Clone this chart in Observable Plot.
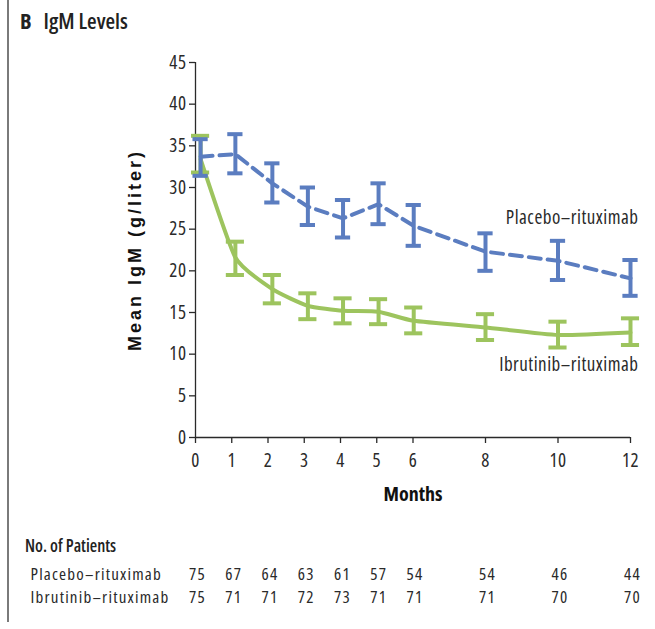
<!DOCTYPE html>
<html>
<head>
<meta charset="utf-8">
<script src="https://cdn.jsdelivr.net/npm/d3@7"></script>
<script src="https://cdn.jsdelivr.net/npm/@observablehq/plot@0.6"></script>
<style>
  html, body { margin: 0; padding: 0; background: #fff; }
  #figure { position: relative; width: 655px; height: 629px; overflow: hidden; background: #fff; color: #222;
            font-family: "Open Sans", sans-serif; font-stretch: 75%; }
  #rule { position: absolute; left: 7px; top: 0; width: 1.5px; height: 622px; background: #7a7a7a; }
  #title { position: absolute; left: 20px; top: 9px; font-size: 22px; line-height: 22px; white-space: nowrap; }
  #title .panel { font-weight: 700; margin-right: 12px; }
  #title .name { font-weight: 600; }
  #chart { position: absolute; left: 0; top: 40px; }
  #tableHead { position: absolute; left: 25px; top: 537px; font-size: 17px; line-height: 17px; font-weight: 600; white-space: nowrap; }
  #table { position: absolute; left: 0; top: 562px; }
</style>
</head>
<body>
<div id="figure">
  <div id="rule"></div>
  <div id="title"><span class="panel">B</span><span class="name">IgM Levels</span></div>
  <div id="chart"></div>
  <div id="tableHead">No. of Patients</div>
  <div id="table"></div>
</div>
<script>
// Scheduled assessment months (axis ticks and table columns)
const months = [0, 1, 2, 3, 4, 5, 6, 8, 10, 12];
// Actual mean timing of each assessment, in months
const visitMonths = [0.14, 1.1, 2.12, 3.1, 4.07, 5.05, 6.02, 8, 10, 12];

const seriesNames = ["Placebo–rituximab", "Ibrutinib–rituximab"];

// Mean IgM (g/liter) with error-bar limits
const placeboMean = [33.7, 34.0, 30.5, 27.7, 26.3, 28.0, 25.4, 22.3, 21.2, 19.1];
const placeboLow  = [31.4, 31.7, 28.2, 25.5, 24.0, 25.6, 23.0, 20.0, 18.9, 17.0];
const placeboHigh = [35.8, 36.4, 32.9, 30.0, 28.5, 30.5, 27.9, 24.5, 23.6, 21.3];

const ibrutinibMean = [33.4, 21.6, 17.8, 15.8, 15.2, 15.1, 14.0, 13.2, 12.3, 12.6];
const ibrutinibLow  = [31.8, 19.5, 16.1, 14.2, 13.7, 13.6, 12.5, 11.7, 10.8, 11.1];
const ibrutinibHigh = [36.2, 23.5, 19.5, 17.3, 16.7, 16.6, 15.6, 14.8, 13.9, 14.3];

// Number of patients at each assessment
const placeboN   = [75, 67, 64, 63, 61, 57, 54, 54, 46, 44];
const ibrutinibN = [75, 71, 71, 72, 73, 71, 71, 71, 70, 70];

const yTicks = [0, 5, 10, 15, 20, 25, 30, 35, 40, 45];
const yLabel = "Mean IgM (g/liter)";
const xLabel = "Months";

const blue = "#5b7dc0";
const green = "#9dc45e";
const ink = "#2a2a2a";

const toRows = (mean, lo, hi) =>
  visitMonths.map((m, i) => ({month: m, mean: mean[i], lo: lo[i], hi: hi[i]}));
const placebo = toRows(placeboMean, placeboLow, placeboHigh);
const ibrutinib = toRows(ibrutinibMean, ibrutinibLow, ibrutinibHigh);

// error bar: vertical rule plus two caps
function errorBars(rows, color, capHalf) {
  return [
    Plot.ruleX(rows, {x: "month", y1: "lo", y2: "hi", stroke: color, strokeWidth: 4}),
    Plot.ruleY(rows, {y: "lo", x1: d => d.month - capHalf, x2: d => d.month + capHalf, stroke: color, strokeWidth: 4}),
    Plot.ruleY(rows, {y: "hi", x1: d => d.month - capHalf, x2: d => d.month + capHalf, stroke: color, strokeWidth: 4})
  ];
}

const W = 655, ML = 195, MR = 25;
const baseStyle = "font-family: 'Open Sans', sans-serif; font-size: 19px; font-stretch: 75%; letter-spacing: 0.5px; color: #2a2a2a; background: transparent; overflow: visible;";
const tableStyle = "font-family: 'Open Sans', sans-serif; font-size: 17px; font-stretch: 75%; letter-spacing: 1.2px; color: #2a2a2a; background: transparent; overflow: visible;";

const chart = Plot.plot({
  width: W,
  height: 480,
  marginLeft: ML,
  marginRight: MR,
  marginTop: 22,
  marginBottom: 83,
  style: baseStyle,
  x: {domain: [0, 12]},
  y: {domain: [0, 45]},
  marks: [
    Plot.axisY({ticks: yTicks, tickSize: 6, tickPadding: 3, label: null, stroke: ink, strokeWidth: 1.3, fill: ink}),
    Plot.axisX({ticks: months, tickSize: 6, tickPadding: 10, label: null, stroke: ink, strokeWidth: 1.3, fill: ink}),
    Plot.ruleX([0], {y1: 0, y2: 45, stroke: ink, strokeWidth: 1.3}),
    Plot.ruleY([0], {stroke: ink, strokeWidth: 1.3}),

    // Ibrutinib–rituximab: solid smoothed line
    Plot.line(ibrutinib, {x: "month", y: "mean", stroke: green, strokeWidth: 4, curve: "cardinal", tension: 0.5}),
    ...errorBars(ibrutinib, green, 0.25),

    // Placebo–rituximab: dashed line
    Plot.line(placebo, {x: "month", y: "mean", stroke: blue, strokeWidth: 4, strokeDasharray: "12,7"}),
    ...errorBars(placebo, blue, 0.21),

    // series labels at the right end
    Plot.text([seriesNames[0]], {x: 12, y: 26.3, text: d => d, textAnchor: "end", dx: 8, fill: ink}),
    Plot.text([seriesNames[1]], {x: 12, y: 8.7, text: d => d, textAnchor: "end", dx: 8, fill: ink}),

    // axis titles
    Plot.text([yLabel], {frameAnchor: "left", text: d => d, rotate: -90, dx: -60, textAnchor: "middle",
      fontFamily: "'Liberation Sans', Arial, sans-serif", fontWeight: 700, fontSize: 18, fill: "#111"}),
    Plot.text([xLabel], {frameAnchor: "bottom", text: d => d, dy: 63, fontWeight: 700, fontSize: 20, fill: "#111"})
  ]
});
const chartText = d3.select(chart).selectAll("text");
// stretch the rotated title along its length
chartText.filter(function() { return this.textContent === yLabel; })
  .style("letter-spacing", "3px").style("font-stretch", "100%");
chartText.filter(function() { return this.textContent === xLabel; })
  .style("letter-spacing", "0px");
document.getElementById("chart").appendChild(chart);

// Number-at-risk table sharing the same horizontal scale
const tableRows = [];
months.forEach((m, i) => {
  tableRows.push({group: seriesNames[0], month: m, n: placeboN[i]});
  tableRows.push({group: seriesNames[1], month: m, n: ibrutinibN[i]});
});
const table = Plot.plot({
  width: W,
  height: 47,
  marginLeft: ML,
  marginRight: MR,
  marginTop: 0,
  marginBottom: 0,
  style: tableStyle,
  x: {domain: [0, 12], axis: null},
  y: {type: "point", domain: seriesNames, axis: null, padding: 0.5},
  marks: [
    Plot.text(tableRows, {x: "month", y: "group", text: "n", dx: 2, fill: ink}),
    Plot.text(seriesNames, {y: d => d, text: d => d, frameAnchor: "left", textAnchor: "start", dx: 30 - ML, fill: ink})
  ]
});
document.getElementById("table").appendChild(table);
</script>
</body>
</html>
